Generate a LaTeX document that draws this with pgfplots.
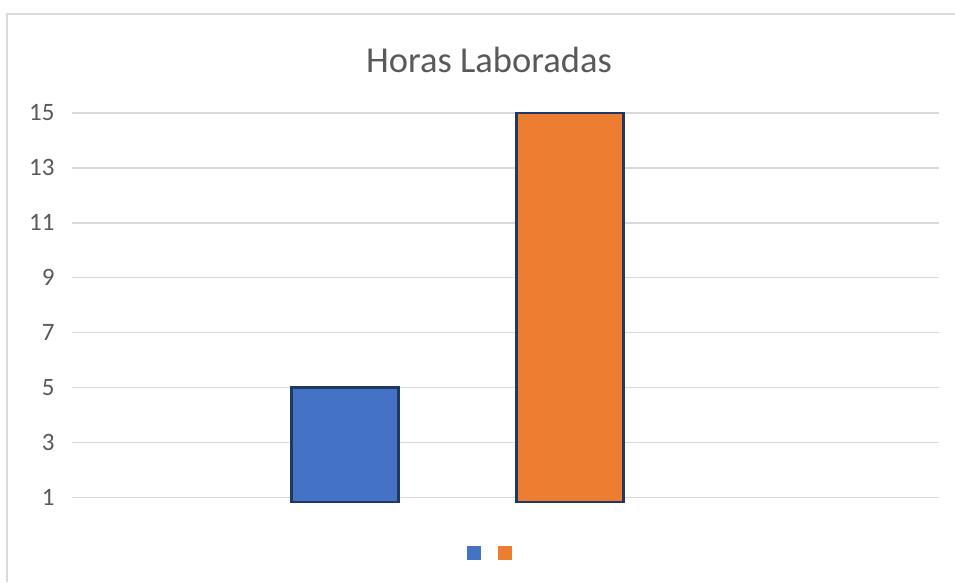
\documentclass[border=0pt]{standalone}
\usepackage{pgfplots}
\pgfplotsset{compat=1.18}
\usepackage{fontspec}
\setmainfont{Carlito}
\definecolor{txtgray}{HTML}{595959}
\definecolor{gridgray}{HTML}{D9D9D9}
\definecolor{barblue}{HTML}{4472C4}
\definecolor{barorange}{HTML}{ED7D31}
\definecolor{barborder}{HTML}{1F3864}
\begin{document}
\begin{tikzpicture}
\path[use as bounding box] (0,0) rectangle (955pt,-582pt);
\draw[gridgray, line width=1.6pt] (7pt,-582pt) -- (7pt,-14pt) -- (955pt,-14pt);
\node[txtgray, font=\fontsize{36.5}{42}\selectfont, anchor=base] at (489pt,-72pt) {Horas Laboradas};
\begin{axis}[
  at={(72pt,-501.7pt)}, anchor=south west,
  scale only axis, width=867pt, height=388.7pt,
  axis line style={draw=none},
  tick style={draw=none},
  clip=false,
  y coord trafo/.code={\pgfmathparse{#1-0.84}},
  y coord inv trafo/.code={\pgfmathparse{#1+0.84}},
  ymin=0.84, ymax=15,
  xmin=-0.2133, xmax=3.64,
  ytick={1,3,5,7,9,11,13,15},
  yticklabels={1,3,5,7,9,11,13,15},
  xtick=\empty,
  ymajorgrids,
  grid style={gridgray, line width=1.5pt},
  major tick length=0pt,
  yticklabel style={txtgray, font=\fontsize{25}{30}\selectfont, xshift=-14pt},
  /pgf/number format/assume math mode=true,
  legend image code/.code={\fill[#1, draw=none] (0pt,-7pt) rectangle (14pt,7pt);},
  legend style={draw=none, fill=none, legend columns=-1, at={(0.482,-0.132)}, anchor=center,
    /tikz/every even column/.append style={column sep=16pt}, nodes={inner sep=0pt}},
]
\addplot[ybar, bar width=107pt, bar shift=0pt, fill=barblue, draw=barborder, line width=2.4pt] coordinates {(1,5)};
\addlegendentry{}
\addplot[ybar, bar width=107pt, bar shift=0pt, fill=barorange, draw=barborder, line width=2.4pt] coordinates {(2,15)};
\addlegendentry{}
\end{axis}
\end{tikzpicture}
\end{document}
